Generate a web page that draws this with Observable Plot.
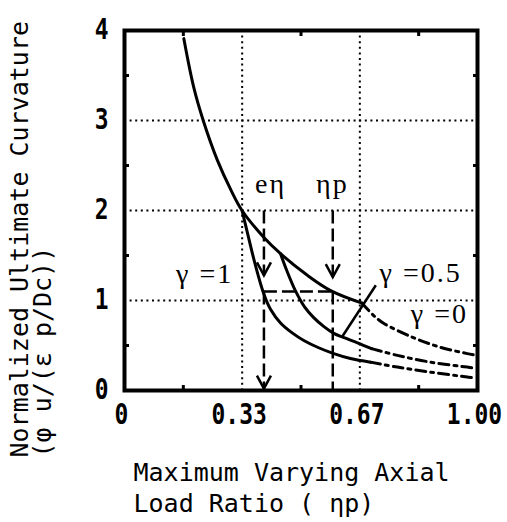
<!DOCTYPE html>
<html>
<head>
<meta charset="utf-8">
<script src="https://cdn.jsdelivr.net/npm/d3@7"></script>
<script src="https://cdn.jsdelivr.net/npm/@observablehq/plot@0.6"></script>
<style>
  body { margin: 0; background: #fff; }
</style>
</head>
<body>
<div id="chart"></div>
<script>
// ---- tick values / labels ----
const xTicks = [0, 1/3, 2/3, 1];
const xTickLabels = ["0", "0.33", "0.67", "1.00"];
const yTicks = [0, 1, 2, 3, 4];
const xGrid = [1/3, 2/3];
const yGrid = [1, 2, 3];
const xMinor = [1/6, 1/2, 5/6];
const yMinor = [0.5, 1.5, 2.5, 3.5];

// ---- curves ----
// common branch, eta_p < 1/3
const commonX = [0.168, 0.196, 0.223, 0.263, 0.300, 0.333];
const commonY = [3.91, 3.37, 3.00, 2.56, 2.24, 2.00];
// gamma = 0
const g0SolidX = [0.395, 0.442, 0.518, 0.584, 0.673];
const g0SolidY = [1.70, 1.52, 1.28, 1.11, 0.97];
const g0DashX = [0.673, 0.706, 0.735, 0.820, 0.895, 0.971, 0.99];
const g0DashY = [0.97, 0.833, 0.745, 0.585, 0.48, 0.41, 0.395];
// gamma = 0.5
const g05SolidX = [0.442, 0.460, 0.484, 0.510, 0.536, 0.565, 0.593, 0.620, 0.660, 0.700];
const g05SolidY = [1.52, 1.33, 1.11, 0.93, 0.81, 0.71, 0.635, 0.59, 0.53, 0.465];
const g05DashX = [0.700, 0.773, 0.867, 0.971, 0.99];
const g05DashY = [0.465, 0.39, 0.315, 0.26, 0.25];
// gamma = 1
const g1SolidX = [0.333, 0.352, 0.371, 0.395, 0.414, 0.442, 0.475, 0.508, 0.550, 0.593, 0.640, 0.697];
const g1SolidY = [2.00, 1.69, 1.39, 1.07, 0.90, 0.75, 0.64, 0.556, 0.475, 0.41, 0.355, 0.315];
const g1DashX = [0.697, 0.773, 0.867, 0.971, 0.99];
const g1DashY = [0.315, 0.26, 0.204, 0.15, 0.14];

// ---- dashed guide arrows ----
const guideX1 = [0.395, 0.590, 0.395, 0.395, 0.590];
const guideY1 = [2.00, 2.00, 1.10, 1.10, 1.10];
const guideX2 = [0.395, 0.590, 0.590, 0.395, 0.590];
const guideY2 = [1.28, 1.26, 1.10, 0.02, 0.00];
const headX = [0.395, 0.590, 0.395];
const headY = [1.28, 1.26, 0.02];

// ---- annotations ----
const labelText = ["γ =1", "γ =0.5", "γ =0", "eη", "ηp"];
const labelX = [0.227, 0.839, 0.892, 0.414, 0.589];
const labelY = [1.29, 1.305, 0.845, 2.29, 2.29];
const leaderX = [0.617, 0.712];
const leaderY = [0.60, 1.17];

const xTitle = "Maximum Varying Axial\nLoad Ratio ( ηp)";
const yTitle = "Normalized Ultimate Curvature\n(φ u/(ε p/Dc))";

// ---- build tables ----
const toRows = (name, xs, ys) => xs.map((x, i) => ({series: name, x, y: ys[i]}));
const solidRows = [
  ...toRows("γ=0", [...commonX, ...g0SolidX], [...commonY, ...g0SolidY]),
  ...toRows("γ=0.5", g05SolidX, g05SolidY),
  ...toRows("γ=1", g1SolidX, g1SolidY)
];
const dashRows = [
  ...toRows("γ=0", g0DashX, g0DashY),
  ...toRows("γ=0.5", g05DashX, g05DashY),
  ...toRows("γ=1", g1DashX, g1DashY)
];
const guides = guideX1.map((x1, i) => ({x1, y1: guideY1[i], x2: guideX2[i], y2: guideY2[i]}));
const heads = headX.map((x, i) => ({x, y: headY[i]}));
const labels = labelText.map((t, i) => ({t, x: labelX[i], y: labelY[i]}));
const leader = [{x1: leaderX[0], y1: leaderY[0], x2: leaderX[1], y2: leaderY[1]}];

const vHead = {
  draw(ctx) { ctx.moveTo(-7, -13); ctx.lineTo(0, 0); ctx.lineTo(7, -13); }
};

const tickFont = "'DejaVu Sans Mono', 'Liberation Mono', monospace";
const monoFont = "'DejaVu Sans Mono', 'Liberation Mono', monospace";
const serifFont = "'Liberation Serif', 'DejaVu Serif', serif";

const chart = Plot.plot({
  width: 507,
  height: 522,
  marginLeft: 124,
  marginRight: 30,
  marginTop: 30,
  marginBottom: 132,
  style: {background: "white", color: "black", overflow: "visible"},
  x: {domain: [0, 1]},
  y: {domain: [0, 4]},
  marks: [
    Plot.ruleY(yGrid, {stroke: "black", strokeWidth: 2, strokeDasharray: "2,3.6"}),
    Plot.ruleX(xGrid, {stroke: "black", strokeWidth: 2, strokeDasharray: "2,3.6"}),
    Plot.link(guides, {x1: "x1", y1: "y1", x2: "x2", y2: "y2", stroke: "black", strokeWidth: 2.5, strokeDasharray: "13,5"}),
    Plot.dot(heads, {x: "x", y: "y", symbol: vHead, fill: "none", stroke: "black", strokeWidth: 2.5}),
    Plot.line(solidRows, {x: "x", y: "y", z: "series", curve: "catmull-rom", stroke: "black", strokeWidth: 3}),
    Plot.line(dashRows, {x: "x", y: "y", z: "series", curve: "catmull-rom", stroke: "black", strokeWidth: 3, strokeDasharray: "10,5,3,5"}),
    Plot.link(leader, {x1: "x1", y1: "y1", x2: "x2", y2: "y2", stroke: "black", strokeWidth: 2.5}),
    Plot.text(labels, {x: "x", y: "y", text: "t", fontFamily: serifFont, fontSize: 28, fill: "black",
      stroke: "white", strokeWidth: 8, paintOrder: "stroke", textAnchor: "middle", lineAnchor: "middle"}),
    Plot.frame({stroke: "black", strokeWidth: 4}),
    // minor inward ticks on the frame
    Plot.axisX({anchor: "bottom", ticks: xMinor, tickSize: -5, tickFormat: () => "", strokeWidth: 3, label: null}),
    Plot.axisX({anchor: "top", ticks: xMinor, tickSize: -5, tickFormat: () => "", strokeWidth: 3, label: null}),
    Plot.axisY({anchor: "left", ticks: yMinor, tickSize: -5, tickFormat: () => "", strokeWidth: 3, label: null}),
    Plot.axisY({anchor: "right", ticks: yMinor, tickSize: -5, tickFormat: () => "", strokeWidth: 3, label: null}),
    // tick labels
    Plot.axisX({anchor: "bottom", ticks: xTicks, tickSize: 0, tickPadding: 14, dx: -3,
      tickFormat: d => xTickLabels[xTicks.indexOf(d)], label: null,
      fontFamily: tickFont, fontSize: 28, fontWeight: "bold"}),
    Plot.axisY({anchor: "left", ticks: yTicks, tickSize: 0, tickPadding: 16, tickFormat: d => String(d), label: null,
      fontFamily: tickFont, fontSize: 28, fontWeight: "bold"}),
    // axis titles
    Plot.text([xTitle], {text: d => d, frameAnchor: "bottom-left", textAnchor: "start", lineAnchor: "top",
      dx: 9, dy: 68, fontFamily: monoFont, fontSize: 25, lineHeight: 1.24, fill: "black"}),
    Plot.text([yTitle], {text: d => d, frameAnchor: "bottom-left", textAnchor: "start", lineAnchor: "top", rotate: -90,
      dx: -113, dy: 67, fontFamily: monoFont, fontSize: 25, lineHeight: 0.93, fill: "black"})
  ]
});

document.getElementById("chart").appendChild(chart);

// condensed look for the tick numerals
d3.select(chart)
  .selectAll('g[aria-label="x-axis tick label"] text, g[aria-label="y-axis tick label"] text')
  .attr("transform", function () { return (this.getAttribute("transform") || "") + " scale(0.82,1)"; });
// looser spacing for the in-plot labels
d3.select(chart).selectAll("text")
  .filter(function () { return labelText.includes(this.textContent); })
  .style("letter-spacing", "2px");
</script>
</body>
</html>
